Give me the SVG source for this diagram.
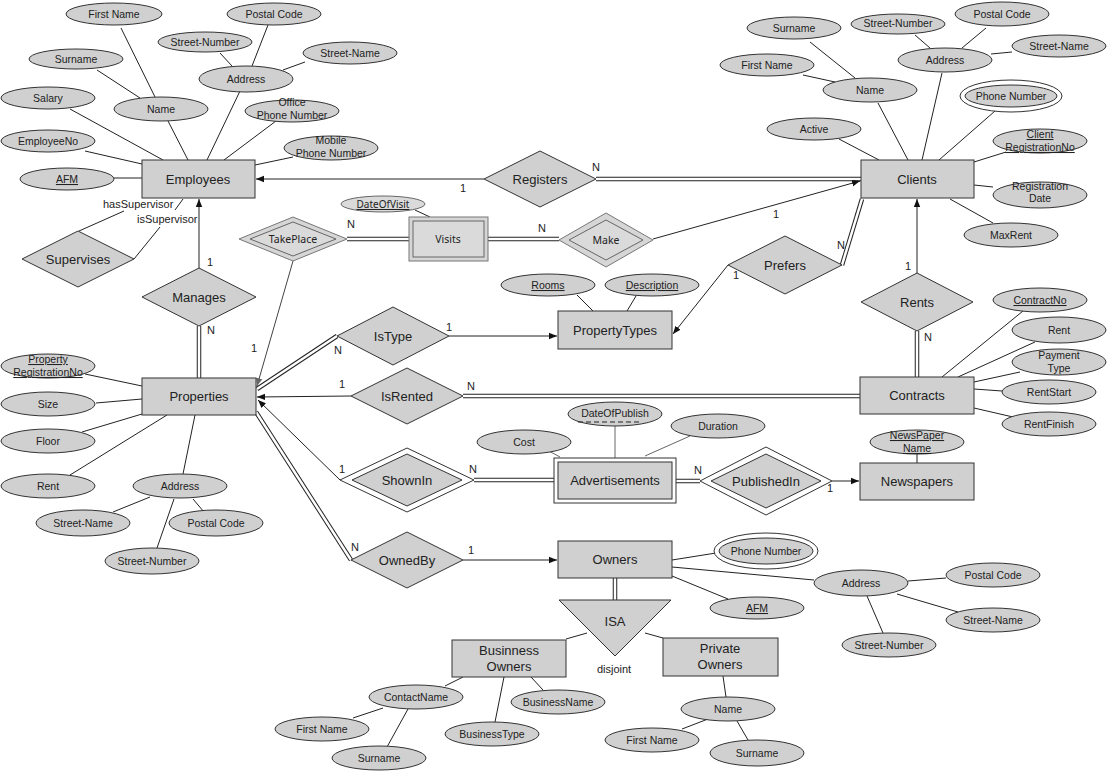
<svg xmlns="http://www.w3.org/2000/svg" width="1107" height="773" viewBox="0 0 1107 773">
<defs>
<marker id="arr" viewBox="0 0 10 10" refX="10" refY="5" markerWidth="8" markerHeight="8" markerUnits="userSpaceOnUse" orient="auto"><path d="M0,1 L10,5 L0,9 z" fill="#111"/></marker>
<marker id="arrg" viewBox="0 0 10 10" refX="10" refY="5" markerWidth="8" markerHeight="8" markerUnits="userSpaceOnUse" orient="auto"><path d="M0,1 L10,5 L0,9 z" fill="#666"/></marker>
<style>
.ent{fill:#d0d0d0;stroke:#333;stroke-width:1}
.att{fill:#d0d0d0;stroke:#333;stroke-width:1}
.wh{fill:#fff;stroke:#333;stroke-width:1}
.vo{fill:#d6d6d6;stroke:#777;stroke-width:1}
.vi{fill:#dadada;stroke:#666;stroke-width:1}
.ln{stroke:#222;stroke-width:1;fill:none}
.lg{stroke:#666;stroke-width:1;fill:none}
.ar{stroke:#222;stroke-width:1;fill:none;marker-end:url(#arr)}
.arg{stroke:#444;stroke-width:1;fill:none;marker-end:url(#arrg)}
.d1{stroke:#222;stroke-width:4.5;fill:none}
.d2{stroke:#fff;stroke-width:2.5;fill:none}
text{font-family:"Liberation Sans",Arial,sans-serif;fill:#222}
.tA{font-size:10.5px;text-anchor:middle}
.tE{font-size:13px;text-anchor:middle}
.tC{font-size:11px;text-anchor:middle}
.tL{font-size:11px;text-anchor:start}
.tV{font-family:"Noto Sans","Liberation Sans",sans-serif;font-size:10.5px;text-anchor:middle}
.u{text-decoration:underline}
</style>
</defs>
<rect x="0" y="0" width="1107" height="773" fill="#fff"/>

<g id="connectors">
  <!-- Employees attributes -->
  <line class="ln" x1="121" y1="28" x2="155" y2="97"/>
  <line class="ln" x1="97" y1="70" x2="140" y2="98"/>
  <line class="ln" x1="168" y1="121" x2="188" y2="160"/>
  <line class="ln" x1="70" y1="109" x2="163" y2="160"/>
  <line class="ln" x1="85" y1="151" x2="142" y2="164"/>
  <line class="ln" x1="114" y1="178" x2="142" y2="178"/>
  <line class="ln" x1="220" y1="53" x2="232" y2="66"/>
  <line class="ln" x1="268" y1="25" x2="252" y2="66"/>
  <line class="ln" x1="305" y1="62" x2="283" y2="70"/>
  <line class="ln" x1="240" y1="91" x2="207" y2="160"/>
  <line class="ln" x1="276" y1="121" x2="224" y2="160"/>
  <line class="ln" x1="293" y1="157" x2="255" y2="165"/>
  <!-- Supervises -->
  <line class="ln" x1="124" y1="211" x2="79" y2="231"/>
  <line class="ln" x1="183" y1="199" x2="175" y2="210"/>
  <line class="ln" x1="160" y1="227" x2="134" y2="259"/>
  <!-- Manages -->
  <line class="ar" x1="199" y1="268" x2="199" y2="199"/>
  <line class="d1" x1="199" y1="326" x2="199" y2="378"/><line class="d2" x1="199" y1="326" x2="199" y2="378"/>
  <!-- Registers -->
  <line class="ar" x1="484" y1="179" x2="256" y2="179"/>
  <line class="d1" x1="596" y1="179" x2="861" y2="179"/><line class="d2" x1="596" y1="179" x2="861" y2="179"/>
  <!-- Visits -->
  <line class="d1" x1="347" y1="239" x2="409" y2="239"/><line class="d2" x1="347" y1="239" x2="409" y2="239"/>
  <line class="d1" x1="488" y1="239" x2="559" y2="239"/><line class="d2" x1="488" y1="239" x2="559" y2="239"/>
  <line class="ln" x1="415" y1="210" x2="430" y2="217"/>
  <line class="ar" x1="653" y1="239" x2="860" y2="181"/>
  <line class="arg" x1="293" y1="261" x2="257" y2="386"/>
  <!-- IsType -->
  <line class="d1" x1="337" y1="336" x2="257" y2="389"/><line class="d2" x1="337" y1="336" x2="257" y2="389"/>
  <line class="ar" x1="449" y1="336" x2="557" y2="336"/>
  <!-- IsRented -->
  <line class="ar" x1="351" y1="396" x2="257" y2="397"/>
  <line class="d1" x1="463" y1="396" x2="860" y2="396"/><line class="d2" x1="463" y1="396" x2="860" y2="396"/>
  <!-- ShownIn -->
  <line class="ar" x1="340" y1="480" x2="258" y2="400"/>
  <line class="d1" x1="474" y1="480" x2="554" y2="480"/><line class="d2" x1="474" y1="480" x2="554" y2="480"/>
  <!-- OwnedBy -->
  <line class="d1" x1="351" y1="560" x2="256" y2="412"/><line class="d2" x1="351" y1="560" x2="256" y2="412"/>
  <line class="ar" x1="463" y1="560" x2="557" y2="560"/>
  <!-- Owners / ISA -->
  <line class="d1" x1="615" y1="578" x2="615" y2="600"/><line class="d2" x1="615" y1="578" x2="615" y2="600"/>
  <line class="ln" x1="587" y1="633" x2="566" y2="639"/>
  <line class="ln" x1="645" y1="633" x2="663" y2="638"/>
  <line class="ln" x1="672" y1="560" x2="716" y2="553"/>
  <line class="ln" x1="672" y1="567" x2="814" y2="580"/>
  <line class="ln" x1="672" y1="576" x2="728" y2="599"/>
  <line class="ln" x1="908" y1="581" x2="946" y2="578"/>
  <line class="ln" x1="897" y1="594" x2="958" y2="612"/>
  <line class="ln" x1="867" y1="596" x2="883" y2="633"/>
  <!-- Business owners -->
  <line class="ln" x1="463" y1="677" x2="445" y2="686"/>
  <line class="ln" x1="504" y1="677" x2="495" y2="722"/>
  <line class="ln" x1="531" y1="677" x2="543" y2="690"/>
  <line class="ln" x1="383" y1="708" x2="353" y2="718"/>
  <line class="ln" x1="408" y1="709" x2="387" y2="747"/>
  <!-- Private owners -->
  <line class="ln" x1="723" y1="676" x2="726" y2="697"/>
  <line class="ln" x1="682" y1="729" x2="708" y2="719"/>
  <line class="ln" x1="737" y1="721" x2="748" y2="740"/>
  <!-- Properties attributes -->
  <line class="ln" x1="85" y1="374" x2="142" y2="386"/>
  <line class="ln" x1="96" y1="403" x2="142" y2="399"/>
  <line class="ln" x1="82" y1="432" x2="142" y2="414"/>
  <line class="ln" x1="70" y1="475" x2="167" y2="415"/>
  <line class="ln" x1="183" y1="474" x2="195" y2="415"/>
  <line class="ln" x1="150" y1="497" x2="113" y2="512"/>
  <line class="ln" x1="193" y1="499" x2="204" y2="512"/>
  <line class="ln" x1="174" y1="499" x2="157" y2="548"/>
  <!-- Clients attributes -->
  <line class="ln" x1="810" y1="42" x2="855" y2="78"/>
  <line class="ln" x1="803" y1="75" x2="835" y2="82"/>
  <line class="ln" x1="878" y1="103" x2="908" y2="160"/>
  <line class="ln" x1="915" y1="35" x2="930" y2="48"/>
  <line class="ln" x1="986" y1="28" x2="962" y2="48"/>
  <line class="ln" x1="1012" y1="52" x2="991" y2="54"/>
  <line class="ln" x1="942" y1="73" x2="922" y2="160"/>
  <line class="ln" x1="995" y1="111" x2="939" y2="160"/>
  <line class="ln" x1="839" y1="139" x2="879" y2="160"/>
  <line class="ln" x1="1006" y1="152" x2="974" y2="162"/>
  <line class="ln" x1="993" y1="187" x2="974" y2="185"/>
  <line class="ln" x1="993" y1="223" x2="950" y2="199"/>
  <!-- Rents / Prefers -->
  <line class="ar" x1="917" y1="273" x2="917" y2="199"/>
  <line class="d1" x1="917" y1="331" x2="917" y2="377"/><line class="d2" x1="917" y1="331" x2="917" y2="377"/>
  <line class="d1" x1="842" y1="265" x2="862" y2="199"/><line class="d2" x1="842" y1="265" x2="862" y2="199"/>
  <line class="ar" x1="728" y1="265" x2="673" y2="334"/>
  <!-- PropertyTypes attributes -->
  <line class="ln" x1="577" y1="295" x2="593" y2="311"/>
  <line class="ln" x1="636" y1="296" x2="627" y2="311"/>
  <!-- Contracts attributes -->
  <line class="ln" x1="1023" y1="311" x2="942" y2="377"/>
  <line class="ln" x1="1035" y1="342" x2="958" y2="377"/>
  <line class="ln" x1="1020" y1="372" x2="974" y2="382"/>
  <line class="ln" x1="974" y1="389" x2="1002" y2="391"/>
  <line class="ln" x1="974" y1="408" x2="1013" y2="417"/>
  <!-- Newspapers / PublishedIn -->
  <line class="ln" x1="917" y1="454" x2="917" y2="463"/>
  <line class="d1" x1="676" y1="481" x2="700" y2="481"/><line class="d2" x1="676" y1="481" x2="700" y2="481"/>
  <line class="ar" x1="832" y1="481" x2="859" y2="481"/>
  <!-- Advertisements attributes -->
  <line class="lg" x1="615" y1="426" x2="615" y2="458"/>
  <line class="lg" x1="547" y1="450" x2="560" y2="457"/>
  <line class="lg" x1="690" y1="436" x2="645" y2="456"/>
  <!-- cardinalities -->
  <text class="tC" x="463" y="192">1</text>
  <text class="tC" x="596" y="171">N</text>
  <text class="tC" x="210" y="266">1</text>
  <text class="tC" x="211" y="334">N</text>
  <text class="tC" x="351" y="228">N</text>
  <text class="tC" x="542" y="232">N</text>
  <text class="tC" x="776" y="218">1</text>
  <text class="tC" x="254" y="352">1</text>
  <text class="tC" x="338" y="354">N</text>
  <text class="tC" x="449" y="331">1</text>
  <text class="tC" x="342" y="388">1</text>
  <text class="tC" x="471" y="390">N</text>
  <text class="tC" x="342" y="473">1</text>
  <text class="tC" x="473" y="473">N</text>
  <text class="tC" x="698" y="474">N</text>
  <text class="tC" x="830" y="492">1</text>
  <text class="tC" x="355" y="551">N</text>
  <text class="tC" x="471" y="554">1</text>
  <text class="tC" x="908" y="270">1</text>
  <text class="tC" x="928" y="341">N</text>
  <text class="tC" x="841" y="249">N</text>
  <text class="tC" x="736" y="279">1</text>
  <text class="tL" x="103" y="208">hasSupervisor</text>
  <text class="tL" x="137" y="223">isSupervisor</text>
</g>

<!-- Entities -->
<g id="employees"><rect class="ent" x="142" y="160" width="113" height="38"/><text class="tE" x="198" y="184">Employees</text></g>
<g id="clients"><rect class="ent" x="861" y="160" width="113" height="38"/><text class="tE" x="917" y="184">Clients</text></g>
<g id="properties"><rect class="ent" x="142" y="378" width="114" height="37"/><text class="tE" x="199" y="401">Properties</text></g>
<g id="propertytypes"><rect class="ent" x="558" y="311" width="114" height="38"/><text class="tE" x="615" y="335">PropertyTypes</text></g>
<g id="contracts"><rect class="ent" x="860" y="377" width="114" height="37"/><text class="tE" x="917" y="400">Contracts</text></g>
<g id="advertisements"><rect class="wh" x="554" y="458" width="122" height="45"/><rect class="ent" x="558" y="462" width="114" height="37"/><text class="tE" x="615" y="485">Advertisements</text></g>
<g id="newspapers"><rect class="ent" x="860" y="463" width="114" height="37"/><text class="tE" x="917" y="486">Newspapers</text></g>
<g id="owners"><rect class="ent" x="558" y="541" width="114" height="37"/><text class="tE" x="615" y="564">Owners</text></g>
<g id="business-owners"><rect class="ent" x="452" y="640" width="114" height="37"/><text class="tE" x="509" y="655">Businness</text><text class="tE" x="509" y="671">Owners</text></g>
<g id="private-owners"><rect class="ent" x="663" y="638" width="115" height="38"/><text class="tE" x="720" y="653">Private</text><text class="tE" x="720" y="669">Owners</text></g>
<g id="visits"><rect class="vo" x="409" y="217" width="79" height="44"/><rect class="vi" x="413" y="221" width="71" height="36"/><text class="tV" x="448" y="243">Visits</text></g>

<!-- Relationships -->
<g id="registers"><polygon class="ent" points="484,179 540,151 596,179 540,207"/><text class="tE" x="540" y="184">Registers</text></g>
<g id="supervises"><polygon class="ent" points="22,259 78,231 134,259 78,287"/><text class="tE" x="78" y="264">Supervises</text></g>
<g id="manages"><polygon class="ent" points="142,297 199,268 256,297 199,326"/><text class="tE" x="199" y="302">Manages</text></g>
<g id="istype"><polygon class="ent" points="337,336 393,307 449,336 393,365"/><text class="tE" x="393" y="341">IsType</text></g>
<g id="isrented"><polygon class="ent" points="351,396 407,368 463,396 407,424"/><text class="tE" x="407" y="401">IsRented</text></g>
<g id="shownin"><polygon class="wh" points="340,480 407,448 474,480 407,512"/><polygon class="ent" points="352,480 407,454 462,480 407,506"/><text class="tE" x="407" y="485">ShownIn</text></g>
<g id="ownedby"><polygon class="ent" points="351,560 407,532 463,560 407,588"/><text class="tE" x="407" y="565">OwnedBy</text></g>
<g id="rents"><polygon class="ent" points="861,302 917,273 973,302 917,331"/><text class="tE" x="917" y="307">Rents</text></g>
<g id="prefers"><polygon class="ent" points="728,265 785,236 842,265 785,294"/><text class="tE" x="785" y="270">Prefers</text></g>
<g id="publishedin"><polygon class="wh" points="700,481 766,447 832,481 766,515"/><polygon class="ent" points="711,481 766,454 821,481 766,508"/><text class="tE" x="766" y="486">PublishedIn</text></g>
<g id="takeplace"><polygon class="vo" points="239,239 293,217 347,239 293,261"/><polygon class="vi" points="250,239 293,222 336,239 293,256"/><text class="tV" x="293" y="243">TakePlace</text></g>
<g id="make"><polygon class="vo" points="559,240 606,213 653,240 606,267"/><polygon class="vi" points="569,240 606,220 643,240 606,260"/><text class="tV" x="606" y="244">Make</text></g>
<g id="isa"><polygon class="ent" points="559,600 671,600 615,656"/><text class="tE" x="615" y="626">ISA</text><text class="tC" x="614" y="673">disjoint</text></g>

<!-- Employees attributes -->
<g id="emp-firstname"><ellipse class="att" cx="114" cy="14" rx="48" ry="11"/><text class="tA" x="114" y="18">First Name</text></g>
<g id="emp-postalcode"><ellipse class="att" cx="274" cy="14" rx="47" ry="11"/><text class="tA" x="274" y="18">Postal Code</text></g>
<g id="emp-streetnumber"><ellipse class="att" cx="205" cy="42" rx="47" ry="10"/><text class="tA" x="205" y="46">Street-Number</text></g>
<g id="emp-streetname"><ellipse class="att" cx="350" cy="53" rx="47" ry="11"/><text class="tA" x="350" y="57">Street-Name</text></g>
<g id="emp-surname"><ellipse class="att" cx="76" cy="59" rx="47" ry="10"/><text class="tA" x="76" y="63">Surname</text></g>
<g id="emp-address"><ellipse class="att" cx="246" cy="79" rx="47" ry="13"/><text class="tA" x="246" y="83">Address</text></g>
<g id="emp-salary"><ellipse class="att" cx="48" cy="98" rx="47" ry="11"/><text class="tA" x="48" y="102">Salary</text></g>
<g id="emp-name"><ellipse class="att" cx="161" cy="109" rx="47" ry="12"/><text class="tA" x="161" y="113">Name</text></g>
<g id="emp-officephone"><ellipse class="att" cx="292" cy="111" rx="47" ry="11"/><text class="tA" x="292" y="106">Office</text><text class="tA" x="292" y="119">Phone Number</text></g>
<g id="emp-employeeno"><ellipse class="att" cx="48" cy="141" rx="47" ry="11"/><text class="tA" x="48" y="145">EmployeeNo</text></g>
<g id="emp-mobilephone"><ellipse class="att" cx="331" cy="148" rx="47" ry="12"/><text class="tA" x="331" y="144">Mobile</text><text class="tA" x="331" y="157">Phone Number</text></g>
<g id="emp-afm"><ellipse class="att" cx="67" cy="179" rx="47" ry="11"/><text class="tA u" x="67" y="183">AFM</text></g>

<!-- Clients attributes -->
<g id="cl-surname"><ellipse class="att" cx="794" cy="28" rx="47" ry="11"/><text class="tA" x="794" y="32">Surname</text></g>
<g id="cl-streetnumber"><ellipse class="att" cx="898" cy="24" rx="47" ry="10"/><text class="tA" x="898" y="27">Street-Number</text></g>
<g id="cl-postalcode"><ellipse class="att" cx="1002" cy="14" rx="47" ry="12"/><text class="tA" x="1002" y="18">Postal Code</text></g>
<g id="cl-streetname"><ellipse class="att" cx="1059" cy="46" rx="47" ry="11"/><text class="tA" x="1059" y="50">Street-Name</text></g>
<g id="cl-address"><ellipse class="att" cx="945" cy="60" rx="47" ry="12"/><text class="tA" x="945" y="64">Address</text></g>
<g id="cl-firstname"><ellipse class="att" cx="767" cy="65" rx="47" ry="11"/><text class="tA" x="767" y="69">First Name</text></g>
<g id="cl-name"><ellipse class="att" cx="870" cy="90" rx="47" ry="12"/><text class="tA" x="870" y="94">Name</text></g>
<g id="cl-phone"><ellipse class="wh" cx="1011" cy="96" rx="51" ry="16"/><ellipse class="att" cx="1011" cy="96" rx="46" ry="11"/><text class="tA" x="1011" y="100">Phone Number</text></g>
<g id="cl-active"><ellipse class="att" cx="814" cy="129" rx="47" ry="11"/><text class="tA" x="814" y="133">Active</text></g>
<g id="cl-regno"><ellipse class="att" cx="1040" cy="141" rx="47" ry="12"/><text class="tA u" x="1040" y="138">Client</text><text class="tA u" x="1040" y="151">RegistrationNo</text></g>
<g id="cl-regdate"><ellipse class="att" cx="1040" cy="195" rx="47" ry="13"/><text class="tA" x="1040" y="190">Registration</text><text class="tA" x="1040" y="202">Date</text></g>
<g id="cl-maxrent"><ellipse class="att" cx="1011" cy="235" rx="47" ry="12"/><text class="tA" x="1011" y="239">MaxRent</text></g>

<!-- Properties attributes -->
<g id="pr-regno"><ellipse class="att" cx="48" cy="366" rx="47" ry="12"/><text class="tA u" x="48" y="363">Property</text><text class="tA u" x="48" y="376">RegistrationNo</text></g>
<g id="pr-size"><ellipse class="att" cx="48" cy="404" rx="47" ry="12"/><text class="tA" x="48" y="408">Size</text></g>
<g id="pr-floor"><ellipse class="att" cx="48" cy="441" rx="47" ry="12"/><text class="tA" x="48" y="445">Floor</text></g>
<g id="pr-rent"><ellipse class="att" cx="48" cy="486" rx="47" ry="12"/><text class="tA" x="48" y="490">Rent</text></g>
<g id="pr-address"><ellipse class="att" cx="180" cy="486" rx="47" ry="12"/><text class="tA" x="180" y="490">Address</text></g>
<g id="pr-streetname"><ellipse class="att" cx="83" cy="523" rx="47" ry="13"/><text class="tA" x="83" y="527">Street-Name</text></g>
<g id="pr-postalcode"><ellipse class="att" cx="216" cy="523" rx="47" ry="13"/><text class="tA" x="216" y="527">Postal Code</text></g>
<g id="pr-streetnumber"><ellipse class="att" cx="152" cy="561" rx="47" ry="13"/><text class="tA" x="152" y="565">Street-Number</text></g>

<!-- PropertyTypes attributes -->
<g id="pt-rooms"><ellipse class="att" cx="548" cy="285" rx="47" ry="11"/><text class="tA u" x="548" y="289">Rooms</text></g>
<g id="pt-description"><ellipse class="att" cx="652" cy="285" rx="47" ry="11"/><text class="tA u" x="652" y="289">Description</text></g>

<!-- Contracts attributes -->
<g id="ct-contractno"><ellipse class="att" cx="1040" cy="300" rx="47" ry="12"/><text class="tA u" x="1040" y="304">ContractNo</text></g>
<g id="ct-rent"><ellipse class="att" cx="1059" cy="330" rx="47" ry="13"/><text class="tA" x="1059" y="334">Rent</text></g>
<g id="ct-paymenttype"><ellipse class="att" cx="1059" cy="362" rx="47" ry="13"/><text class="tA" x="1059" y="359">Payment</text><text class="tA" x="1059" y="372">Type</text></g>
<g id="ct-rentstart"><ellipse class="att" cx="1049" cy="392" rx="47" ry="12"/><text class="tA" x="1049" y="396">RentStart</text></g>
<g id="ct-rentfinish"><ellipse class="att" cx="1049" cy="424" rx="47" ry="12"/><text class="tA" x="1049" y="428">RentFinish</text></g>

<!-- Newspapers attribute -->
<g id="np-name"><ellipse class="att" cx="917" cy="442" rx="47" ry="12"/><text class="tA u" x="917" y="439">NewsPaper</text><text class="tA u" x="917" y="452">Name</text></g>

<!-- Advertisements attributes -->
<g id="ad-dateofpublish"><ellipse class="att" cx="615" cy="414" rx="47" ry="12"/><text class="tA" x="615" y="417">DateOfPublish</text><line x1="578" y1="422" x2="642" y2="422" stroke="#222" stroke-width="1" stroke-dasharray="5,3"/></g>
<g id="ad-cost"><ellipse class="att" cx="524" cy="442" rx="47" ry="12"/><text class="tA" x="524" y="446">Cost</text></g>
<g id="ad-duration"><ellipse class="att" cx="718" cy="426" rx="47" ry="12"/><text class="tA" x="718" y="430">Duration</text></g>

<!-- Visits attribute -->
<g id="vi-dateofvisit"><ellipse class="vi" cx="383" cy="204" rx="42" ry="8"/><text class="tV u" x="383" y="208" style="font-size:10px">DateOfVisit</text></g>

<!-- Owners attributes -->
<g id="ow-phone"><ellipse class="wh" cx="766" cy="551" rx="52" ry="18"/><ellipse class="att" cx="766" cy="551" rx="47" ry="13"/><text class="tA" x="766" y="555">Phone Number</text></g>
<g id="ow-address"><ellipse class="att" cx="861" cy="583" rx="47" ry="13"/><text class="tA" x="861" y="587">Address</text></g>
<g id="ow-afm"><ellipse class="att" cx="757" cy="608" rx="47" ry="11"/><text class="tA u" x="757" y="612">AFM</text></g>
<g id="ow-postalcode"><ellipse class="att" cx="993" cy="575" rx="47" ry="12"/><text class="tA" x="993" y="579">Postal Code</text></g>
<g id="ow-streetname"><ellipse class="att" cx="993" cy="620" rx="47" ry="12"/><text class="tA" x="993" y="624">Street-Name</text></g>
<g id="ow-streetnumber"><ellipse class="att" cx="889" cy="645" rx="47" ry="12"/><text class="tA" x="889" y="649">Street-Number</text></g>

<!-- Business owners attributes -->
<g id="bo-contactname"><ellipse class="att" cx="416" cy="697" rx="47" ry="12"/><text class="tA" x="416" y="701">ContactName</text></g>
<g id="bo-businesstype"><ellipse class="att" cx="492" cy="734" rx="47" ry="12"/><text class="tA" x="492" y="738">BusinessType</text></g>
<g id="bo-businessname"><ellipse class="att" cx="558" cy="702" rx="47" ry="12"/><text class="tA" x="558" y="706">BusinessName</text></g>
<g id="bo-firstname"><ellipse class="att" cx="322" cy="729" rx="47" ry="12"/><text class="tA" x="322" y="733">First Name</text></g>
<g id="bo-surname"><ellipse class="att" cx="379" cy="758" rx="47" ry="12"/><text class="tA" x="379" y="762">Surname</text></g>

<!-- Private owners attributes -->
<g id="po-name"><ellipse class="att" cx="728" cy="709" rx="47" ry="12"/><text class="tA" x="728" y="713">Name</text></g>
<g id="po-firstname"><ellipse class="att" cx="652" cy="740" rx="47" ry="12"/><text class="tA" x="652" y="744">First Name</text></g>
<g id="po-surname"><ellipse class="att" cx="757" cy="753" rx="47" ry="13"/><text class="tA" x="757" y="757">Surname</text></g>
</svg>
